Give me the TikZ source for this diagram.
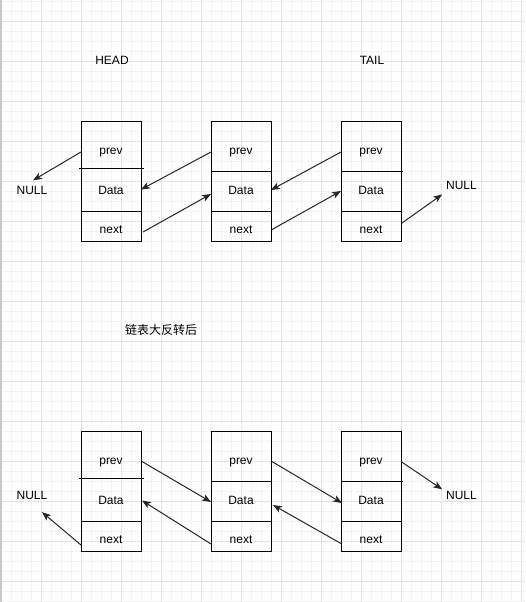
\documentclass[tikz,border=0pt]{standalone}
\usepackage{fontspec}
\setmainfont{Liberation Sans}
\newfontfamily\cjkfont{Noto Sans CJK SC}
\usetikzlibrary{arrows.meta,calc}
\definecolor{gridminor}{HTML}{F3F3F3}
\definecolor{gridmajor}{HTML}{E3E3E3}
\definecolor{edgegray}{HTML}{C8C8C8}
\tikzset{
  cell/.style={draw=black,line width=1pt,minimum width=60pt,inner sep=0pt,outer sep=0pt},
  txt/.style={inner sep=0pt,outer sep=0pt,anchor=base,font=\fontsize{12}{14}\selectfont},
  link/.style={draw=black!85,line width=1pt,-{Stealth[length=9pt,width=7pt,inset=2.5pt]}},
  divext/.style={draw=black,line width=1pt}
}
\begin{document}
\begin{tikzpicture}[x=1pt,y=-1pt]
\useasboundingbox (0,0) rectangle (525,602);
\fill[white] (0,0) rectangle (525,602);
% grid
\foreach \k in {0,...,52} {\draw[gridminor,line width=0.8pt] (1+10*\k,0) -- (1+10*\k,602);}
\foreach \k in {0,...,60} {\draw[gridminor,line width=0.8pt] (0,1+10*\k) -- (525,1+10*\k);}
\foreach \k in {1,...,13} {\draw[gridmajor,line width=0.9pt] (1+40*\k,0) -- (1+40*\k,602);}
\foreach \k in {0,...,14} {\draw[gridmajor,line width=0.9pt] (0,21+40*\k) -- (525,21+40*\k);}
\fill[edgegray] (0,0) rectangle (2,602);

% titles
\node[txt] (head) at (112,64) {HEAD};
\node[txt] (tail) at (372,64) {TAIL};
\node[txt,font=\cjkfont\fontsize{12}{14}\selectfont] (title) at (161,334) {链表大反转后};

% ---------- top row ----------
\node[cell,minimum height=47pt] (p1) at (111,144.5) {};
\node[cell,minimum height=43pt] (d1) at (111,189.5) {};
\node[cell,minimum height=30pt] (n1) at (111,226) {};
\node[cell,minimum height=50pt] (p2) at (241,146) {};
\node[cell,minimum height=40pt] (d2) at (241,191) {};
\node[cell,minimum height=30pt] (n2) at (241,226) {};
\node[cell,minimum height=50pt] (p3) at (371,146) {};
\node[cell,minimum height=40pt] (d3) at (371,191) {};
\node[cell,minimum height=30pt] (n3) at (371,226) {};
\draw[divext] ([xshift=-2pt]d1.north west) -- ([xshift=3pt]d1.north east);
\draw[divext] (d3.north west) -- ([xshift=2pt]d3.north east);

\node[txt] (tp1) at (111,154) {prev};
\node[txt] (td1) at (111,194) {Data};
\node[txt] (tn1) at (111,233.3) {next};
\node[txt] (tp2) at (241,154) {prev};
\node[txt] (td2) at (241,194) {Data};
\node[txt] (tn2) at (241,233.3) {next};
\node[txt] (tp3) at (371,154) {prev};
\node[txt] (td3) at (371,194) {Data};
\node[txt] (tn3) at (371,233.3) {next};

\node[txt] (nl1) at (32,194) {NULL};
\node[txt] (nr1) at (461.5,189.3) {NULL};

\draw[link] ($(p1.west)+(0,7.5)$) -- ($(nl1.north)+(1,-5.4)$);
\draw[link] ($(p2.west)+(0,6)$) -- ($(d1.east)+(0,0)$);
\draw[link] ($(n1.east)+(2,6)$) -- ($(d2.west)+(0,3)$);
\draw[link] ($(p3.west)+(0,6)$) -- ($(d2.east)+(0,-1)$);
\draw[link] ($(n2.east)+(1,3.5)$) -- ($(d3.west)+(0,0)$);
\draw[link] ($(n3.east)+(1,-3)$) -- ($(nr1.south west)+(-4,5)$);

% ---------- bottom row ----------
\node[cell,minimum height=47pt] (p1b) at (111,454.5) {};
\node[cell,minimum height=43pt] (d1b) at (111,499.5) {};
\node[cell,minimum height=30pt] (n1b) at (111,536) {};
\node[cell,minimum height=50pt] (p2b) at (241,456) {};
\node[cell,minimum height=40pt] (d2b) at (241,501) {};
\node[cell,minimum height=30pt] (n2b) at (241,536) {};
\node[cell,minimum height=50pt] (p3b) at (371,456) {};
\node[cell,minimum height=40pt] (d3b) at (371,501) {};
\node[cell,minimum height=30pt] (n3b) at (371,536) {};
\draw[divext] ([xshift=-2pt]d1b.north west) -- ([xshift=3pt]d1b.north east);
\draw[divext] (d3b.north west) -- ([xshift=2pt]d3b.north east);

\node[txt] (tp1b) at (111,464) {prev};
\node[txt] (td1b) at (111,504) {Data};
\node[txt] (tn1b) at (111,543.3) {next};
\node[txt] (tp2b) at (241,464) {prev};
\node[txt] (td2b) at (241,504) {Data};
\node[txt] (tn2b) at (241,543.3) {next};
\node[txt] (tp3b) at (371,464) {prev};
\node[txt] (td3b) at (371,504) {Data};
\node[txt] (tn3b) at (371,543.3) {next};

\node[txt] (nl2) at (32,499.3) {NULL};
\node[txt] (nr2) at (461.5,499.3) {NULL};

\draw[link] ($(n1b.west)+(0,9)$) -- ($(nl2.south)+(10,12.7)$);
\draw[link] ($(p1b.east)+(1,7)$) -- ($(d2b.west)+(0,1)$);
\draw[link] ($(n2b.west)+(0,8)$) -- ($(d1b.east)+(1,1)$);
\draw[link] ($(p2b.east)+(0,5)$) -- ($(d3b.west)+(1,2)$);
\draw[link] ($(n3b.west)+(0,7.5)$) -- ($(d2b.east)+(2,4)$);
\draw[link] ($(p3b.east)+(0,5.5)$) -- ($(nr2.north west)+(-4,-1.7)$);
\end{tikzpicture}
\end{document}
